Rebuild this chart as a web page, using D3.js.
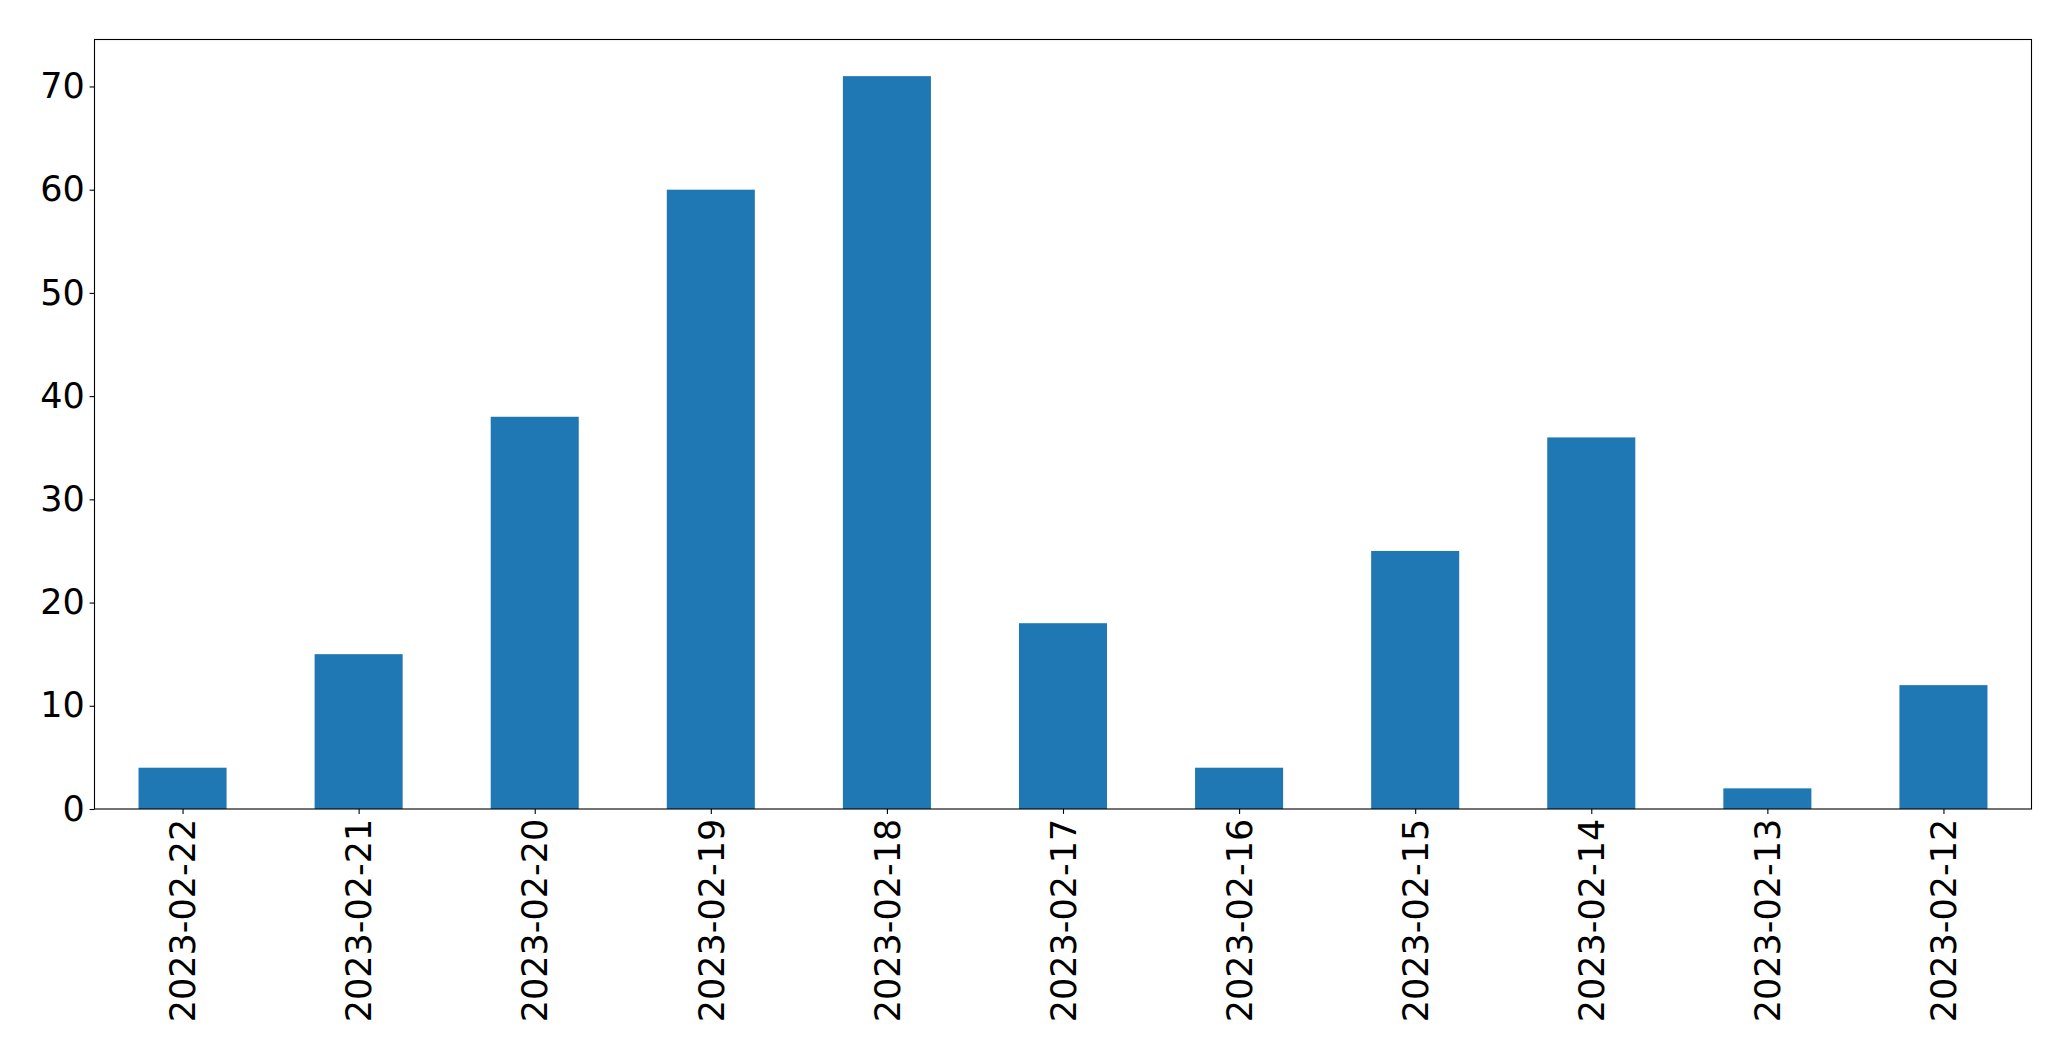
<!DOCTYPE html>
<html><head><meta charset="utf-8">
<script src="https://cdn.jsdelivr.net/npm/d3@7"></script>
<style>body{margin:0;background:#fff}svg{display:block}text{font-family:"DejaVu Sans",sans-serif}</style>
</head><body>
<script>
const categories = ["2023-02-22","2023-02-21","2023-02-20","2023-02-19","2023-02-18","2023-02-17","2023-02-16","2023-02-15","2023-02-14","2023-02-13","2023-02-12"];
const values = [4, 15, 38, 60, 71, 18, 4, 25, 36, 2, 12];
const yTicks = [0, 10, 20, 30, 40, 50, 60, 70];

const W = 2071, H = 1061;
const mLeft = 94.5, mRight = 2031.5, mTop = 39.5, mBottom = 809;
const svg = d3.select("body").append("svg").attr("width", W).attr("height", H);

const x = d3.scaleLinear().domain([-0.5, categories.length - 0.5]).range([mLeft, mRight]);
const y = d3.scaleLinear().domain([0, d3.max(values) * 1.05]).range([mBottom, mTop]);

svg.append("g").selectAll("rect").data(values).join("rect")
  .attr("x", (d, i) => x(i - 0.25))
  .attr("width", (d, i) => x(i + 0.25) - x(i - 0.25))
  .attr("y", d => y(d))
  .attr("height", d => y(0) - y(d))
  .attr("fill", "#1f77b4");

const fs = 35;
const yAxis = d3.axisLeft(y).tickValues(yTicks).tickSize(4.9).tickPadding(4.9).tickFormat(d3.format("d"));
const gy = svg.append("g").attr("transform", `translate(${mLeft},0)`).call(yAxis);
gy.select(".domain").remove();
gy.selectAll("line").attr("stroke", "#000").attr("stroke-width", 1.1);
gy.selectAll("text").attr("font-size", fs).attr("fill", "#000").attr("font-family", "DejaVu Sans");

const xAxis = d3.axisBottom(x).tickValues(d3.range(categories.length)).tickSize(4.9).tickFormat(i => categories[i]);
const gx = svg.append("g").attr("transform", `translate(0,${mBottom})`).call(xAxis);
gx.select(".domain").remove();
gx.selectAll("line").attr("stroke", "#000").attr("stroke-width", 1.1);
gx.selectAll("text")
  .attr("font-size", fs).attr("fill", "#000").attr("font-family", "DejaVu Sans")
  .attr("transform", "rotate(-90)")
  .attr("x", -9.8).attr("y", 0).attr("dy", "0.35em")
  .attr("text-anchor", "end");

svg.append("rect").attr("x", mLeft).attr("y", mTop).attr("width", mRight - mLeft).attr("height", mBottom - mTop)
  .attr("fill", "none").attr("stroke", "#000").attr("stroke-width", 1.1);
</script>
</body></html>
